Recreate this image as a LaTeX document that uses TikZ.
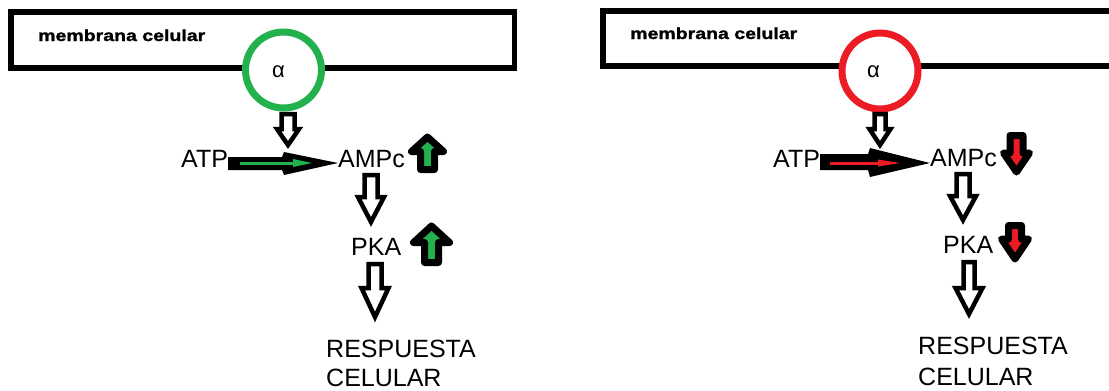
\documentclass[tikz,border=0pt]{standalone}
\usepackage{fontspec}
\setmainfont{Liberation Sans}
\newfontfamily\memfont[FakeStretch=1.22,FakeBold=1.5]{Liberation Sans Bold}
\definecolor{pgreen}{RGB}{34,177,76}
\definecolor{pred}{RGB}{237,28,36}
\tikzset{
  lbl/.style={inner sep=0pt, anchor=base west, font=\fontsize{25}{29}\selectfont},
  memtxt/.style={inner sep=0pt, anchor=base west, font=\fontsize{16}{18}\memfont},
  alph/.style={inner sep=0pt, anchor=base west, font=\fontsize{22}{24}\selectfont},
  membrane/.style={draw=black, line width=5.5pt},
  gprot/.style={circle, draw, fill=white, line width=7pt, minimum size=76pt, inner sep=0pt},
  hollow/.style={draw=black, fill=white, line width=4.5pt, miter limit=10},
  indic/.style={draw=black, line width=7pt, line join=round},
  wedge/.style={fill=black},
  signal/.style={line width=3pt}
}
% x, top, headbase, tip, shaft half width, head half width
\newcommand{\hollowdown}[6]{%
  \draw[hollow] (#1-#5,#2) -- (#1+#5,#2) -- (#1+#5,#3) -- (#1+#6,#3) -- (#1,#4)
    -- (#1-#6,#3) -- (#1-#5,#3) -- cycle;}
% x, tip, headbase, end, shaft half width, head half width, colour
\newcommand{\indarrow}[7]{%
  \draw[indic, fill=#7] (#1,#2) -- (#1+#6,#3) -- (#1+#5,#3) -- (#1+#5,#4)
    -- (#1-#5,#4) -- (#1-#5,#3) -- (#1-#6,#3) -- cycle;}
\begin{document}
\begin{tikzpicture}[x=1pt,y=-1pt]
\useasboundingbox (0,0) rectangle (1109,391);
\clip (0,0) rectangle (1109,391);

% ---------------- left panel ----------------
\draw[membrane] (11,12) rectangle (514.7,68);
\node[memtxt] (memL) at (38,41) {membrana celular};
\node[gprot, draw=pgreen] (gL) at (283.5,70) {};
\node[alph] (aL) at (272,77) {α};
\hollowdown{288}{114}{129}{145}{6.5}{11}
\node[lbl] (atpL) at (181,167) {ATP};
\node[lbl] (ampL) at (338,167) {AMPc};
\fill[wedge] (atpL.east |- 0,157) -- (282,157) -- (284,152) -- (ampL.west |- 0,163)
  -- (284,175) -- (282,170) -- (atpL.east |- 0,170) -- cycle;
\draw[signal, pgreen] (240,163) -- (296,163);
\fill[pgreen] (293,159) -- (312,163) -- (293,167) -- cycle;
\indarrow{427.5}{137}{151.5}{169.5}{7}{16}{pgreen}
\hollowdown{371}{175}{197}{222}{6.5}{13}
\node[lbl] (pkaL) at (351,255) {PKA};
\indarrow{431.5}{226}{242.5}{262.5}{7}{18}{pgreen}
\hollowdown{375}{264}{288}{317}{6.5}{13.5}
\node[lbl] (resL) at (326,357) {RESPUESTA};
\node[lbl] (celL) at (326,386) {CELULAR};

% ---------------- right panel ----------------
\draw[membrane] (603,11) rectangle (1120,66);
\node[memtxt] (memR) at (630,39) {membrana celular};
\node[gprot, draw=pred] (gR) at (880,71) {};
\node[alph] (aR) at (867,77) {α};
\hollowdown{880}{114}{129}{145}{5.5}{10.5}
\node[lbl] (atpR) at (773,167) {ATP};
\node[lbl] (ampR) at (930,166) {AMPc};
\fill[wedge] (atpR.east |- 0,154) -- (868,154) -- (870,148) -- (ampR.west |- 0,163)
  -- (870,177) -- (868,170) -- (atpR.east |- 0,170) -- cycle;
\draw[signal, pred] (830,163) -- (882,163);
\fill[pred] (878,159.5) -- (900,163) -- (878,166.5) -- cycle;
\indarrow{1016.5}{172}{153}{135.5}{6.5}{13}{pred}
\hollowdown{963}{174}{196}{220}{6.5}{13}
\node[lbl] (pkaR) at (943,253) {PKA};
\indarrow{1015}{259}{239}{225.5}{6.5}{13.5}{pred}
\hollowdown{969}{262}{288}{314}{5.5}{13.5}
\node[lbl] (resR) at (918,354) {RESPUESTA};
\node[lbl] (celR) at (918,385) {CELULAR};
\end{tikzpicture}
\end{document}
